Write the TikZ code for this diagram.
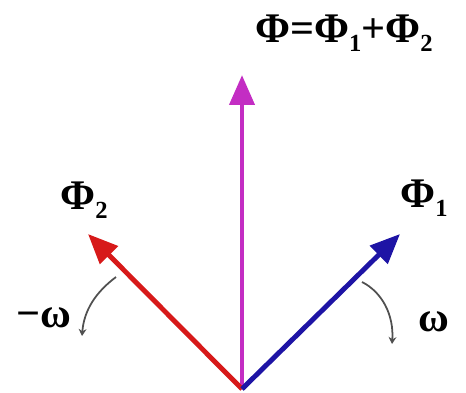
\documentclass[tikz,border=0pt]{standalone}
\usepackage{fontspec}
\setmainfont{Liberation Serif}
\usetikzlibrary{arrows.meta}
\definecolor{phired}{RGB}{215,25,25}
\definecolor{phiblue}{RGB}{30,20,165}
\definecolor{phimag}{RGB}{195,45,195}
\definecolor{curvegray}{RGB}{80,80,80}
\newcommand{\sbx}[1]{\raisebox{-0.45ex}{\fontsize{14}{16}\selectfont #1}}
\begin{document}
\begin{tikzpicture}[x=0.02cm,y=-0.02cm,
  vec/.style={line width=2.8pt,-{Triangle[length=17pt,width=14pt]}},
  rot/.style={draw=curvegray,line width=1pt,-{Stealth[length=4pt,width=4.5pt]}},
  lbl/.style={inner sep=0pt,font=\fontsize{24}{26}\selectfont\bfseries}]
\useasboundingbox (0,0) rectangle (466,392);
\coordinate (o) at (242,389);
\coordinate (tm) at (242,75);
\coordinate (tr) at (88,234);
\coordinate (tb) at (400,234);
\draw[vec,phimag] (o) -- (tm);
\draw[vec,phired] (o) -- (tr);
\draw[vec,phiblue] (o) -- (tb);
\node[lbl] (sum) at (344,33) {Φ=Φ\sbx{1}+Φ\sbx{2}};
\node[lbl] (p2) at (84,200) {Φ\sbx{2}};
\node[lbl] (p1) at (424,198) {Φ\sbx{1}};
\node[lbl] (mw) at (44,318) {−ω};
\node[lbl] (w) at (434,322) {ω};
\coordinate (l1) at (116,277);
\coordinate (l2) at (82,336);
\coordinate (r1) at (362,282);
\coordinate (r2) at (392,344);
\draw[rot] (l1) .. controls (96,292) and (84,310) .. (l2);
\draw[rot] (r1) .. controls (382,292) and (394,315) .. (r2);
\end{tikzpicture}
\end{document}
